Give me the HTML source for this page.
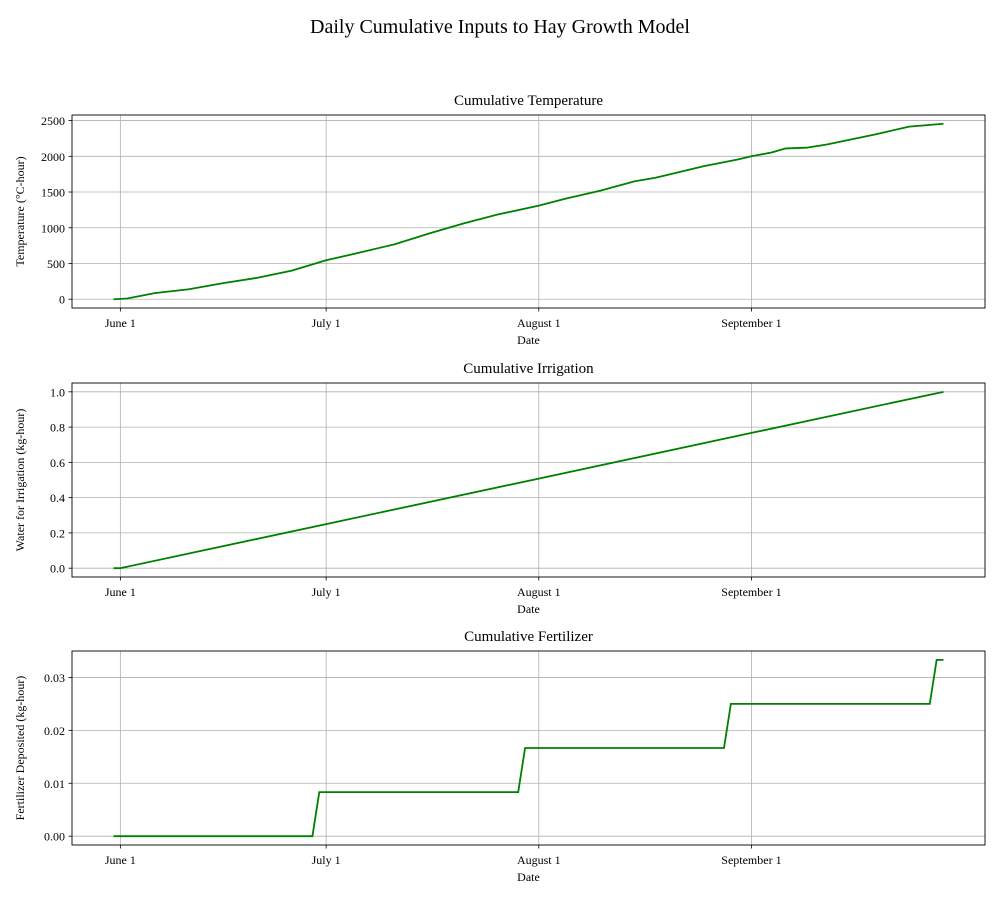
<!DOCTYPE html>
<html><head><meta charset="utf-8"><style>
body{margin:0;background:#fff;}
svg text{font-family:"Liberation Serif","DejaVu Serif",serif;fill:#000;}
</style></head><body>
<svg id="chart" width="1000" height="900" viewBox="0 0 1000 900" xmlns="http://www.w3.org/2000/svg">
<text x="500" y="33" font-size="20" text-anchor="middle">Daily Cumulative Inputs to Hay Growth Model</text>
</svg>
<script>
// x values are days since June 1
const xTickDays = [0, 30, 61, 92];
const xTickLabels = ["June 1", "July 1", "August 1", "September 1"];

const tempDays = [-1,1,5,10,15,20,25,30,35,40,45,50,55,61,65,70,75,78,80,85,90,92,95,97,100,103,105,110,115,120];
const tempValues = [0,10,85,140,225,300,400,545,655,770,920,1060,1185,1310,1410,1520,1650,1700,1745,1860,1955,2000,2055,2110,2120,2165,2205,2305,2415,2455];
const tempTicks = [0,500,1000,1500,2000,2500];
const tempTickLabels = ["0","500","1000","1500","2000","2500"];

const irrDays = [-1,0,30,61,92,120];
const irrValues = [0,0,0.25,0.508,0.767,1.0];
const irrTicks = [0,0.2,0.4,0.6,0.8,1.0];
const irrTickLabels = ["0.0","0.2","0.4","0.6","0.8","1.0"];

const fertDays = [-1,28,29,58,59,88,89,118,119,120];
const fertValues = [0,0,0.00833,0.00833,0.01667,0.01667,0.025,0.025,0.03333,0.03333];
const fertTicks = [0,0.01,0.02,0.03];
const fertTickLabels = ["0.00","0.01","0.02","0.03"];

const NS = "http://www.w3.org/2000/svg";
const svg = document.getElementById("chart");
function mk(tag, attrs, parent){
  const e = document.createElementNS(NS, tag);
  for (const k in attrs) e.setAttribute(k, attrs[k]);
  (parent||svg).appendChild(e);
  return e;
}
const L = 72, R = 985;
const xMin = -7.05, xMax = 126.05;
function xs(d){ return L + (d - xMin) / (xMax - xMin) * (R - L); }

function panel(name, top, bottom, yMin, yMax, days, vals, ticks, tickLabels, title, ylabel){
  const g = mk("g", {});
  
  
  const ys = v => bottom - (v - yMin) / (yMax - yMin) * (bottom - top);
  xTickDays.forEach((d, i) => {
    const x = xs(d);
    const gl = mk("line", {x1:x, x2:x, y1:top, y2:bottom, stroke:"#b0b0b0", "stroke-width":0.8}, g);
    
    
    mk("line", {x1:x, x2:x, y1:bottom, y2:bottom+3.5, stroke:"#000", "stroke-width":0.8}, g);
    const t = mk("text", {x:x, y:bottom+19, "font-size":12, "text-anchor":"middle"}, g);
    t.textContent = xTickLabels[i];
    
    
  });
  ticks.forEach((v, i) => {
    const y = ys(v);
    const gl = mk("line", {x1:L, x2:R, y1:y, y2:y, stroke:"#b0b0b0", "stroke-width":0.8}, g);
    
    
    mk("line", {x1:L-3.5, x2:L, y1:y, y2:y, stroke:"#000", "stroke-width":0.8}, g);
    const t = mk("text", {x:L-7, y:y+4.5, "font-size":12, "text-anchor":"end"}, g);
    t.textContent = tickLabels[i];
    
    
  });
  const pts = days.map((d, i) => xs(d).toFixed(2) + "," + ys(vals[i]).toFixed(2)).join(" ");
  const line = mk("polyline", {points:pts, fill:"none", stroke:"#008000", "stroke-width":1.8}, g);
  
  
  const frame = mk("rect", {x:L, y:top, width:R-L, height:bottom-top, fill:"none", stroke:"#000", "stroke-width":0.9}, g);
  
  
  const tt = mk("text", {x:(L+R)/2, y:top-10, "font-size":15, "text-anchor":"middle"}, g);
  tt.textContent = title;
  
  
  const xl = mk("text", {x:(L+R)/2, y:bottom+36, "font-size":12, "text-anchor":"middle"}, g);
  xl.textContent = "Date";
  
  
  const cy = (top+bottom)/2;
  const yl = mk("text", {x:24, y:cy, "font-size":12, "text-anchor":"middle", transform:"rotate(-90 24 "+cy+")"}, g);
  yl.textContent = ylabel;
  
  
}
panel("temperature", 115, 308, -122.75, 2577.75, tempDays, tempValues, tempTicks, tempTickLabels, "Cumulative Temperature", "Temperature (°C-hour)");
panel("irrigation", 383, 577, -0.05, 1.05, irrDays, irrValues, irrTicks, irrTickLabels, "Cumulative Irrigation", "Water for Irrigation (kg-hour)");
panel("fertilizer", 651, 845, -0.001667, 0.035, fertDays, fertValues, fertTicks, fertTickLabels, "Cumulative Fertilizer", "Fertilizer Deposited (kg-hour)");
</script>
</body></html>
